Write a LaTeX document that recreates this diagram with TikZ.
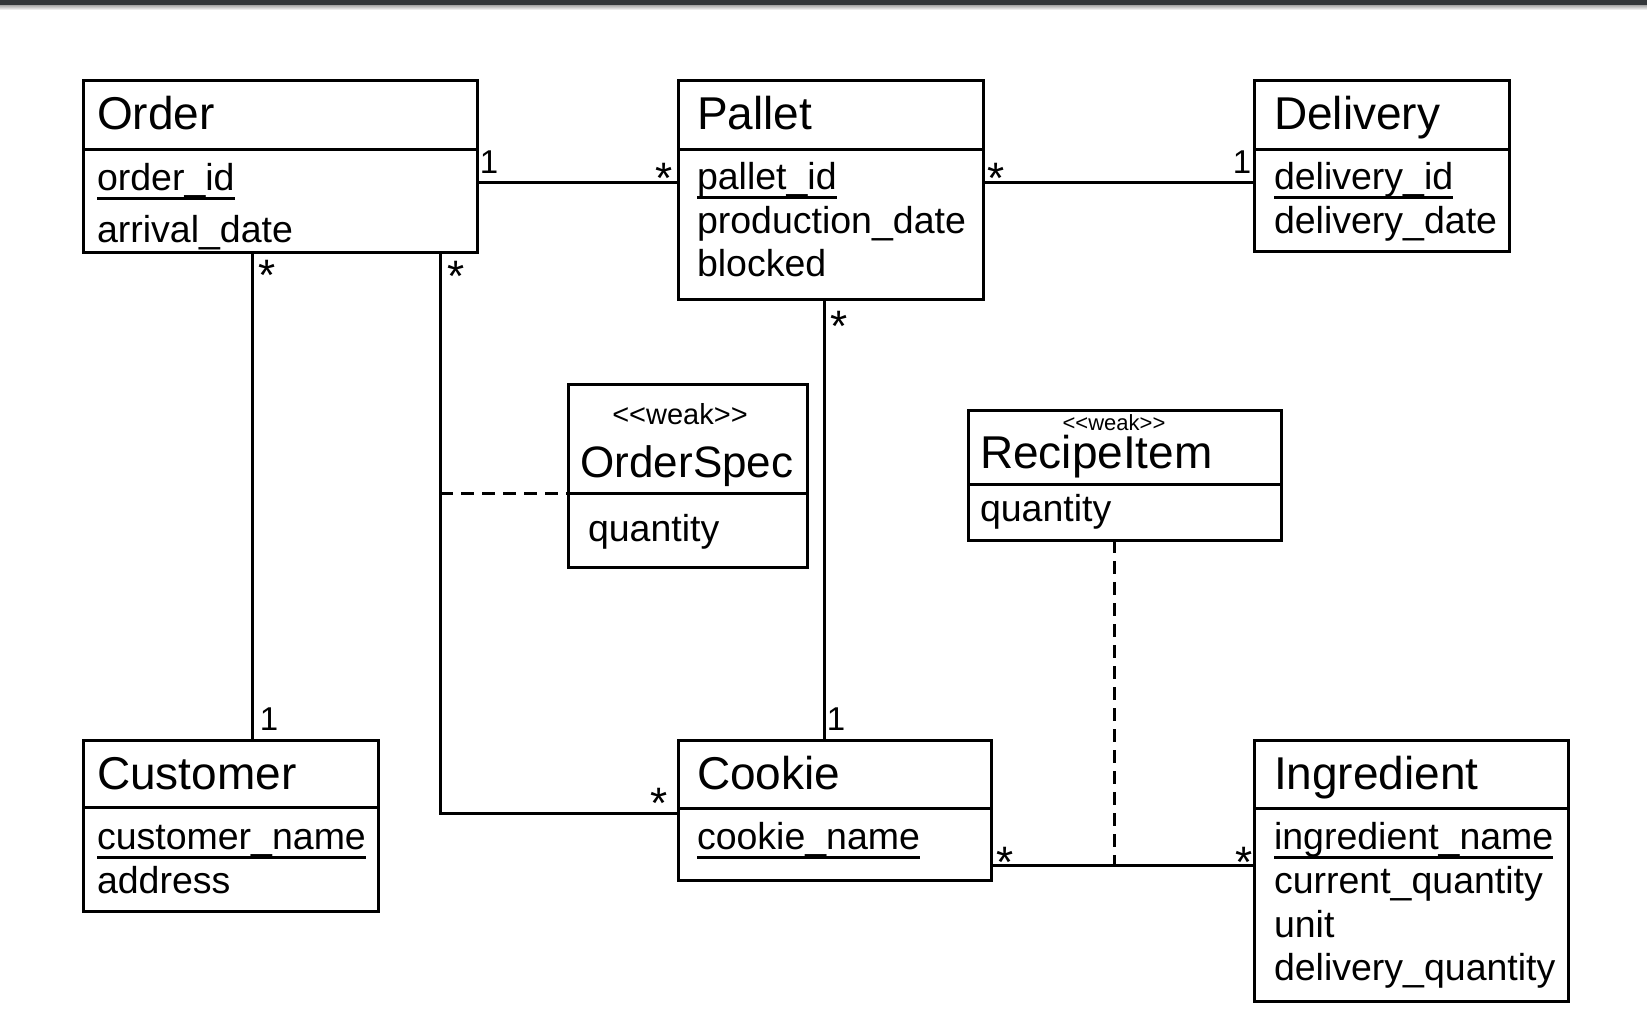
\documentclass[tikz,border=0pt]{standalone}
\usepackage{fontspec}
\setmainfont{Liberation Sans}
\definecolor{topbar}{HTML}{33373A}
\begin{document}
\begin{tikzpicture}[x=1pt,y=-1pt,
  box/.style={draw, line width=3pt, inner sep=0pt, outer sep=0pt, anchor=north west},
  title/.style={font=\fontsize{46}{54}\selectfont, anchor=base west, inner sep=0pt, outer sep=0pt},
  attr/.style={font=\fontsize{37.5}{44}\selectfont, anchor=base west, inner sep=0pt, outer sep=0pt},
  stereo/.style={font=\fontsize{29}{34}\selectfont, anchor=base, inner sep=0pt},
  mult/.style={font=\fontsize{33}{40}\selectfont, anchor=base, inner sep=0pt},
  starm/.style={font=\fontsize{44}{50}\selectfont, anchor=base, inner sep=0pt},
  conn/.style={line width=3pt},
  dconn/.style={line width=3pt, dash pattern=on 13pt off 8pt},
  ul/.style={line width=3pt}
]
\useasboundingbox (0,0) rectangle (1647,1028);
\fill[white] (0,0) rectangle (1647,1028);
\fill[topbar] (0,0) rectangle (1647,5);
\shade[top color=gray!70, bottom color=white] (0,5) rectangle (1647,10);

% ---------- boxes ----------
\node[box, minimum width=394pt, minimum height=172pt] (order) at (83,80) {};
\node[box, minimum width=305pt, minimum height=219pt] (pallet) at (678,80) {};
\node[box, minimum width=255pt, minimum height=171pt] (delivery) at (1254,80) {};
\node[box, minimum width=239pt, minimum height=183pt] (orderspec) at (568,384) {};
\node[box, minimum width=313pt, minimum height=130pt] (recipe) at (968,410) {};
\node[box, minimum width=295pt, minimum height=171pt] (customer) at (83,740) {};
\node[box, minimum width=313pt, minimum height=140pt] (cookie) at (678,740) {};
\node[box, minimum width=314pt, minimum height=261pt] (ingredient) at (1254,740) {};

% dividers
\draw[conn] ([yshift=-69pt]order.north west) -- ([yshift=-69pt]order.north east);
\draw[conn] ([yshift=-69pt]pallet.north west) -- ([yshift=-69pt]pallet.north east);
\draw[conn] ([yshift=-69pt]delivery.north west) -- ([yshift=-69pt]delivery.north east);
\draw[conn] ([yshift=-109pt]orderspec.north west) -- ([yshift=-109pt]orderspec.north east);
\draw[conn] ([yshift=-74pt]recipe.north west) -- ([yshift=-74pt]recipe.north east);
\draw[conn] ([yshift=-67pt]customer.north west) -- ([yshift=-67pt]customer.north east);
\draw[conn] ([yshift=-68pt]cookie.north west) -- ([yshift=-68pt]cookie.north east);
\draw[conn] ([yshift=-68pt]ingredient.north west) -- ([yshift=-68pt]ingredient.north east);

% ---------- texts ----------
% Order
\node[title] (orderT) at (97,129) {Order};
\node[attr] (orderA1) at (97,190) {order\_id};
\node[attr] (orderA2) at (97,242) {arrival\_date};
\draw[ul] ([yshift=-8pt]orderA1.base west) -- ([yshift=-8pt]orderA1.base east);
% Pallet
\node[title] (palletT) at (697,129) {Pallet};
\node[attr] (palletA1) at (697,189) {pallet\_id};
\node[attr] (palletA2) at (697,233) {production\_date};
\node[attr] (palletA3) at (697,276) {blocked};
\draw[ul] ([yshift=-8pt]palletA1.base west) -- ([yshift=-8pt]palletA1.base east);
% Delivery
\node[title] (deliveryT) at (1274,129) {Delivery};
\node[attr] (deliveryA1) at (1274,189) {delivery\_id};
\node[attr] (deliveryA2) at (1274,233) {delivery\_date};
\draw[ul] ([yshift=-8pt]deliveryA1.base west) -- ([yshift=-8pt]deliveryA1.base east);
% OrderSpec
\node[stereo] (osS) at (680,424) {<{}<weak>{}>};
\node[title, anchor=base, font=\fontsize{44}{52}\selectfont] (osT) at (687,477) {OrderSpec};
\node[attr] (osA1) at (588,541) {quantity};
% RecipeItem
\node[stereo, font=\fontsize{22}{26}\selectfont] (riS) at (1114,430) {<{}<weak>{}>};
\node[title] (riT) at (980,468) {RecipeItem};
\node[attr] (riA1) at (980,521) {quantity};
% Customer
\node[title] (customerT) at (97,789) {Customer};
\node[attr] (customerA1) at (97,849) {customer\_name};
\node[attr] (customerA2) at (97,893) {address};
\draw[ul] ([yshift=-8pt]customerA1.base west) -- ([yshift=-8pt]customerA1.base east);
% Cookie
\node[title] (cookieT) at (697,789) {Cookie};
\node[attr] (cookieA1) at (697,849) {cookie\_name};
\draw[ul] ([yshift=-8pt]cookieA1.base west) -- ([yshift=-8pt]cookieA1.base east);
% Ingredient
\node[title] (ingredientT) at (1274,789) {Ingredient};
\node[attr] (ingredientA1) at (1274,849) {ingredient\_name};
\node[attr] (ingredientA2) at (1274,893) {current\_quantity};
\node[attr] (ingredientA3) at (1274,937) {unit};
\node[attr] (ingredientA4) at (1274,980) {delivery\_quantity};
\draw[ul] ([yshift=-8pt]ingredientA1.base west) -- ([yshift=-8pt]ingredientA1.base east);

% ---------- connectors ----------
\draw[conn] ([yshift=-102pt]order.north east) -- ([yshift=-102pt]pallet.north west);
\draw[conn] ([yshift=-102pt]pallet.north east) -- ([yshift=-102pt]delivery.north west);
\draw[conn] (order.south -| 252,0) -- (customer.north -| 252,0);
\draw[conn] (order.south -| 440,0) |- (cookie.west |- 0,813);
\coordinate (oj) at (440,493);
\draw[dconn] (oj) -- (orderspec.west |- oj);
\draw[conn] (pallet.south -| 824,0) -- (cookie.north -| 824,0);
\draw[conn] (cookie.east |- 0,865) -- (ingredient.west |- 0,865);
\coordinate (rj) at (1114,865);
\draw[dconn] (recipe.south -| rj) -- (rj);

% ---------- multiplicities ----------
\node[mult] (m1) at (489,173) {1};
\node[starm] (m2) at (664,193) {*};
\node[starm] (m3) at (996,193) {*};
\node[mult] (m4) at (1242,173) {1};
\node[starm] (m5) at (267,290) {*};
\node[starm] (m6) at (456,291) {*};
\node[starm] (m7) at (839,341) {*};
\node[mult] (m8) at (269,730) {1};
\node[mult] (m9) at (836,730) {1};
\node[starm] (m10) at (659,818) {*};
\node[starm] (m11) at (1005,877) {*};
\node[starm] (m12) at (1244,877) {*};
\end{tikzpicture}
\end{document}
